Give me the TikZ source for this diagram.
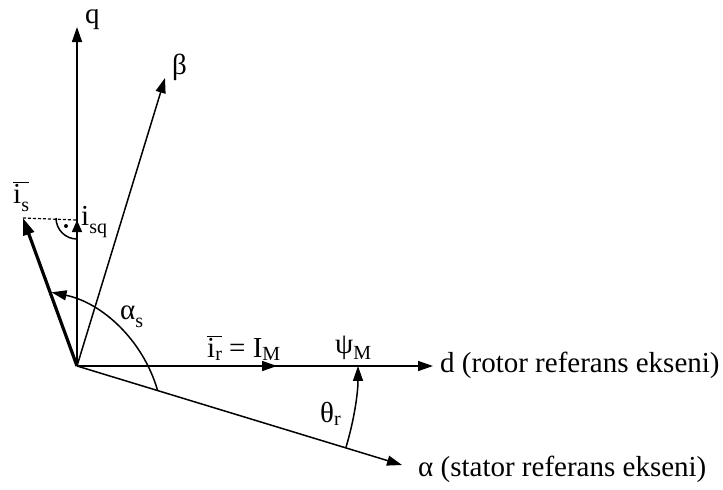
\documentclass[tikz,border=0pt]{standalone}
\usepackage{fontspec}
\setmainfont{Liberation Serif}
\usetikzlibrary{arrows.meta}
\newcommand{\sbs}[2][6pt]{\raisebox{-#1}{\fontsize{20}{20}\selectfont #2}}
\begin{document}
\begin{tikzpicture}[x=1pt,y=-1pt,
  ax/.style={line width=1.5pt},
  tip/.style={-{Triangle[length=15pt,width=10pt]}},
  lbl/.style={anchor=base west, inner sep=0pt, font=\fontsize{29}{32}\selectfont}]
\useasboundingbox (0,0) rectangle (723,490);
% coordinates
\coordinate (O) at (77,366);
\coordinate (qtip) at (77,27);
\coordinate (btip) at (165,78);
\coordinate (dtip) at (433,366);
\coordinate (atip) at (402,465);
\coordinate (istip) at (23,218);
\coordinate (isq) at (77,220);
\coordinate (isqbase) at (77,240);
\coordinate (irtip) at (277,366);
\coordinate (asA) at (157.6,390.5);
\coordinate (thA) at (346,447.2);
\coordinate (ra) at (56,218);
% axes
\draw[ax,tip] (O) -- (qtip);
\draw[ax,tip] (O) -- (btip);
\draw[ax,tip] (O) -- (dtip);
\draw[ax,tip] (O) -- (atip);
\draw[ax,tip] (O) -- (irtip);
% stator current vector
\draw[line width=3.2pt,-{Triangle[length=17pt,width=11pt]}] (O) -- (istip);
\draw[line width=1.2pt,dash pattern=on 3pt off 2pt] (istip) -- (isq);
\draw[ax,-{Triangle[length=12pt,width=10pt]}] (isqbase) -- (isq);
% right angle mark
\draw[ax] (ra) arc[start angle=180,end angle=90,radius=21];
\fill (66,226) circle[radius=2];
% angle arcs
\draw[ax,tip] (asA) arc[start angle=-16,end angle=-78.4,radius=139.5];
\draw[ax,tip] (thA) arc[start angle=16.8,end angle=0,radius=281];
% labels
\node[lbl] (lq) at (85,23) {q};
\node[lbl] (lb) at (172,74) {β};
\node[lbl] (lis) at (13,203) {$\overline{\hbox{i\sbs[8pt]{s}}}$};
\node[lbl] (lisq) at (81,225) {i\sbs[8pt]{sq}};
\node[lbl] (las) at (120,319) {α\sbs[8pt]{s}};
\node[lbl] (lir) at (207,357) {$\overline{\hbox{i\sbs[3pt]{r}}}$ = I\sbs[3pt]{M}};
\node[lbl] (lpsi) at (335,353) {ψ\sbs[6pt]{M}};
\node[lbl] (lth) at (320,422) {θ\sbs[3pt]{r}};
\node[lbl] (ld) at (440,372) {d (rotor referans ekseni)};
\node[lbl] (la) at (418,476) {α (stator referans ekseni)};
\end{tikzpicture}
\end{document}
